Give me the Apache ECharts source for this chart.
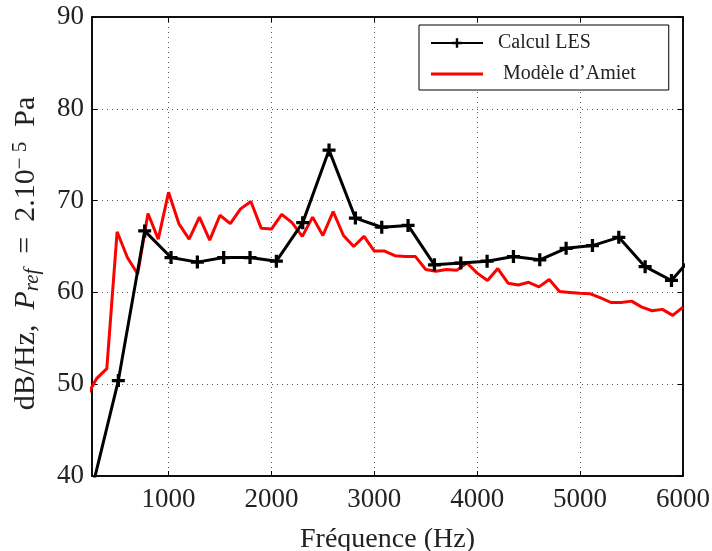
<!DOCTYPE html>
<html><head><meta charset="utf-8">
<script src="https://cdn.jsdelivr.net/npm/echarts@6/dist/echarts.min.js"></script>
<style>html,body{margin:0;padding:0;background:#fff}#c{width:712px;height:551px}</style>
</head><body><div id="c"></div>
<script>
const lesFreq = [256,512,768,1024,1280,1536,1792,2048,2304,2560,2816,3072,3328,3584,3840,4096,4352,4608,4864,5120,5376,5632,5888,6144];
const lesVals = [38.6,50.4,66.7,63.8,63.3,63.8,63.8,63.4,67.6,75.5,68.1,67.1,67.3,63.0,63.2,63.4,63.9,63.55,64.8,65.1,66.0,62.8,61.3,64.6];
const amietFreq = [200,300,400,500,600,700,800,900,1000,1100,1200,1300,1400,1500,1600,1700,1800,1900,2000,2100,2200,2300,2400,2500,2600,2700,2800,2900,3000,3100,3200,3300,3400,3500,3600,3700,3800,3900,4000,4100,4200,4300,4400,4500,4600,4700,4800,4900,5000,5100,5200,5300,5400,5500,5600,5700,5800,5900,6000];
const amietVals = [48.6,50.6,51.7,66.6,63.8,62.0,68.6,65.8,70.9,67.5,65.8,68.2,65.7,68.4,67.5,69.1,69.9,67.0,66.9,68.5,67.6,66.1,68.2,66.2,68.8,66.2,65.0,66.1,64.5,64.5,64.0,63.9,63.9,62.5,62.3,62.5,62.4,63.2,62.1,61.3,62.6,61.0,60.8,61.1,60.6,61.4,60.1,60.0,59.9,59.85,59.4,58.9,58.9,59.05,58.4,58.0,58.15,57.5,58.4];
const xTicks = [1000,2000,3000,4000,5000,6000];
const yTicks = [40,50,60,70,80,90];
const seriesNames = ['Calcul LES', ' Modèle d\u2019Amiet'];

const FONT = 'Liberation Serif';
const plus = 'path://M4.5,0h3v4.5h4.5v3h-4.5v4.5h-3v-4.5h-4.5v-3h4.5z';
const redIcon = 'path://M0,0h0.01v0.01h-0.01z M0,4.5h52v3h-52z M51.99,11.99h0.01v0.01h-0.01z';
const chart = echarts.init(document.getElementById('c'));
const gridLine = {show:true, lineStyle:{color:'#555', type:[1,4], width:1}};
const xBase = {type:'value', min:256, max:6000,
  axisLine:{show:true, onZero:false, lineStyle:{color:'#000', width:1.5}},
  axisTick:{show:true, inside:true, length:5, customValues:xTicks, lineStyle:{color:'#000'}},
  axisLabel:{customValues:xTicks, formatter:v=>String(v), color:'#222', fontFamily:FONT, fontSize:27, margin:10},
  splitLine:gridLine};
const yBase = {type:'value', min:yTicks[0], max:yTicks[yTicks.length-1], interval:10,
  axisLine:{show:true, onZero:false, lineStyle:{color:'#000', width:1.5}},
  axisTick:{show:true, inside:true, length:5, lineStyle:{color:'#000'}},
  axisLabel:{color:'#222', fontFamily:FONT, fontSize:27, margin:8},
  splitLine:gridLine};
const nm = {fontFamily:FONT, fontSize:30, color:'#222', lineHeight:40, verticalAlign:'middle'};
chart.setOption({
  animation:false,
  backgroundColor:'#fff',
  grid:{left:92, right:29, top:17, bottom:75, outerBoundsMode:'none', containLabel:false,
        show:true, borderColor:'#000', borderWidth:1.5},
  legend:{
    orient:'vertical', left:419, top:25,
    padding:[7,33,5,11], itemGap:9, itemWidth:52, itemHeight:12,
    backgroundColor:'#fff', borderColor:'#000', borderWidth:1, borderRadius:0,
    textStyle:{fontFamily:FONT, fontSize:20, color:'#222', padding:[0,0,0,10], lineHeight:22},
    data:[{name:seriesNames[0]}, {name:seriesNames[1], icon:redIcon}]
  },
  xAxis:[
    Object.assign({}, xBase, {position:'bottom',
      name:'Fréquence (Hz)', nameLocation:'middle', nameGap:50,
      nameTextStyle:{fontFamily:FONT, fontSize:28, color:'#222'}}),
    Object.assign({}, xBase, {position:'top', axisLabel:{show:false}, splitLine:{show:false}})
  ],
  yAxis:[
    Object.assign({}, yBase, {position:'left',
      name:'{n|dB/Hz,  }{i|P}{s|ref}{n|  =  2.10}{p|\u2212 5}{n|  Pa}', nameLocation:'middle', nameGap:40, nameRotate:90,
      nameTextStyle:{fontFamily:FONT, fontSize:30, color:'#222', padding:[0,14,0,0],
        rich:{
          n:nm,
          i:Object.assign({}, nm, {fontStyle:'italic'}),
          s:Object.assign({}, nm, {fontSize:21, fontStyle:'italic', verticalAlign:'bottom', padding:[0,0,3,0]}),
          p:Object.assign({}, nm, {fontSize:21, verticalAlign:'top', padding:[4,0,0,0]})
        }}}),
    Object.assign({}, yBase, {position:'right', axisLabel:{show:false}, splitLine:{show:false}})
  ],
  series:[
    {name:seriesNames[0], type:'line', xAxisIndex:0, yAxisIndex:0, clip:true,
     data:lesFreq.map((f,i)=>[f,lesVals[i]]),
     symbol:plus, symbolSize:13, showAllSymbol:true,
     lineStyle:{color:'#000', width:3}, itemStyle:{color:'#000'}, z:3},
    {name:seriesNames[1], type:'line', xAxisIndex:0, yAxisIndex:0, clip:true,
     data:amietFreq.map((f,i)=>[f,amietVals[i]]),
     symbol:'none', lineStyle:{color:'#ff0000', width:3}, itemStyle:{color:'#ff0000'}, z:2}
  ]
});
</script></body></html>
